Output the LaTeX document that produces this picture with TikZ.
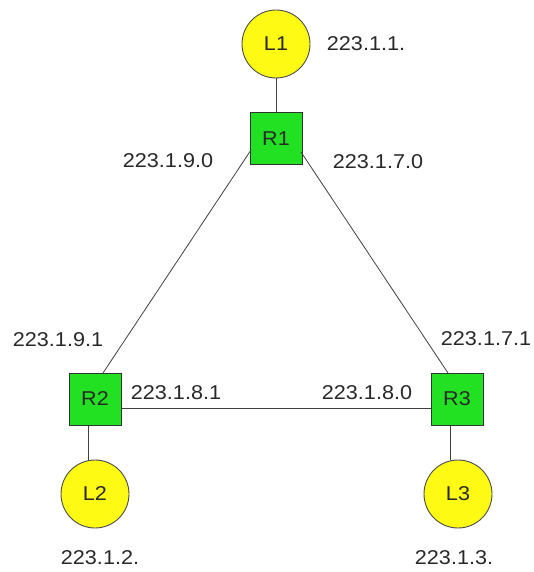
\documentclass[tikz,border=0pt]{standalone}
\usepackage{fontspec}
\setmainfont{Liberation Sans}
\newfontfamily\widefont[FakeStretch=1.08]{Liberation Sans}
\definecolor{rgreen}{RGB}{34,224,34}
\definecolor{lyellow}{RGB}{255,250,20}
\definecolor{txt}{RGB}{40,40,40}
\begin{document}
\begin{tikzpicture}[x=1pt,y=-1pt,
  router/.style={draw=black!80,line width=1pt,fill=rgreen,minimum size=52pt,inner sep=0pt,font=\widefont\fontsize{20}{22}\selectfont,text=txt},
  lan/.style={circle,draw=black!70,line width=0.9pt,fill=lyellow,minimum size=68pt,inner sep=0pt,font=\widefont\fontsize{20}{22}\selectfont,text=txt},
  addr/.style={font=\widefont\fontsize{20}{22}\selectfont,text=txt,inner sep=0pt},
  link/.style={draw=black!75,line width=0.8pt}]
\useasboundingbox (0,0) rectangle (534,572);
\node[lan] (L1) at (276,44) {L1};
\node[router] (R1) at (276,139) {R1};
\node[router] (R2) at (95,399) {R2};
\node[router] (R3) at (457,399) {R3};
\node[lan] (L2) at (95,494) {L2};
\node[lan] (L3) at (458,494) {L3};
\coordinate (R1a) at (251,150);
\coordinate (R1b) at (301,152);
\coordinate (R2a) at (103,373);
\coordinate (R3a) at (448,373);
\draw[link] (L1) -- (R1);
\draw[link] (R1a) -- (R2a);
\draw[link] (R1b) -- (R3a);
\draw[link] (R2.east |- 0,408) -- (R3.west |- 0,408);
\draw[link] (R2.south -| 88,0) -- (L2.north -| 88,0);
\draw[link] (R3.south -| 450,0) -- (L3.north -| 450,0);
\node[addr] (a1) at (366,44) {223.1.1.};
\node[addr] (a90) at (168,161) {223.1.9.0};
\node[addr] (a70) at (378,162) {223.1.7.0};
\node[addr] (a91) at (58,340) {223.1.9.1};
\node[addr] (a71) at (486,339) {223.1.7.1};
\node[addr] (a81) at (176,393) {223.1.8.1};
\node[addr] (a80) at (367,393) {223.1.8.0};
\node[addr] (a2) at (100,558) {223.1.2.};
\node[addr] (a3) at (454,558) {223.1.3.};
\end{tikzpicture}
\end{document}
